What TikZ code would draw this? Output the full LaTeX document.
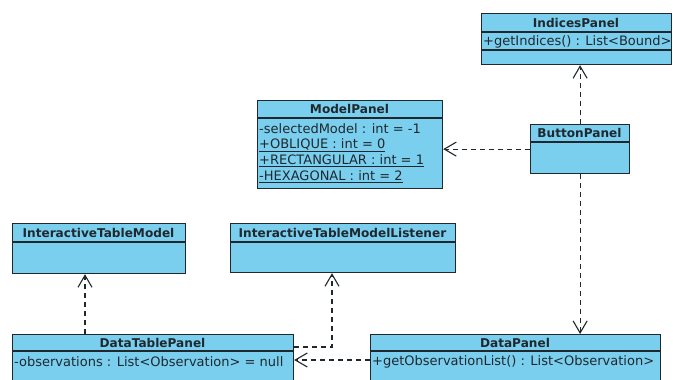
\documentclass[tikz,border=0pt]{standalone}
\usepackage{fontspec}
\setmainfont{DejaVu Sans}
\usetikzlibrary{arrows.meta,positioning}

\definecolor{umlblue}{RGB}{122,207,239}
\definecolor{umlline}{RGB}{32,40,46}

\tikzset{
    classbox/.style={draw=umlline, fill=umlblue, line width=1.2pt,
        anchor=north west, inner sep=0pt},
    classname/.style={font=\fontsize{12.1}{14}\selectfont\bfseries,
        text=umlline, inner sep=0pt},
    member/.style={font=\fontsize{13}{15}\selectfont,
        text=umlline, anchor=west, inner sep=0pt},
    compart/.style={draw=umlline, line width=1.2pt},
    depends/.style={draw=umlline, line width=1.1pt,
        dash pattern=on 5pt off 4pt,
        -{Straight Barb[length=12pt,width=14pt,line width=1.1pt]}}
}

\begin{document}
\begin{tikzpicture}[x=1pt, y=-1pt]

    \useasboundingbox (0,0) rectangle (673,380);

    % IndicesPanel
    \node[classbox, minimum width=190pt, minimum height=51pt] (indices) at (481,13) {};
    \node[classname] (indicesName) at (576,23) {IndicesPanel};
    \draw[compart] (481,32) -- (671,32);
    \node[member] (indicesOp) at (483,41.5) {+getIndices() : List<Bound>};
    \draw[compart] (481,50) -- (671,50);

    % ModelPanel
    \node[classbox, minimum width=185pt, minimum height=88pt] (model) at (257,100) {};
    \node[classname] (modelName) at (349.5,109) {ModelPanel};
    \draw[compart] (257,118) -- (442,118);
    \node[member] (modelSel) at (259,129) {-selectedModel : int = -1};
    \node[member] (modelObl) at (259,145) {\underline{+OBLIQUE : int = 0}};
    \node[member] (modelRect) at (259,161) {\underline{+RECTANGULAR : int = 1}};
    \node[member] (modelHex) at (259,177) {\underline{-HEXAGONAL : int = 2}};

    % ButtonPanel
    \node[classbox, minimum width=99pt, minimum height=49pt] (button) at (530,124) {};
    \node[classname] (buttonName) at (579.5,133) {ButtonPanel};
    \draw[compart] (530,142) -- (629,142);

    % InteractiveTableModel
    \node[classbox, minimum width=173pt, minimum height=50pt] (itm) at (12,223) {};
    \node[classname] (itmName) at (98.5,232.5) {InteractiveTableModel};
    \draw[compart] (12,242) -- (185,242);

    % InteractiveTableModelListener
    \node[classbox, minimum width=225pt, minimum height=49pt] (itml) at (230,223) {};
    \node[classname] (itmlName) at (342.5,232.5) {InteractiveTableModelListener};
    \draw[compart] (230,242) -- (455,242);

    % DataTablePanel
    \node[classbox, minimum width=281pt, minimum height=60pt] (datatable) at (12,334) {};
    \node[classname] (datatableName) at (152.5,342.5) {DataTablePanel};
    \draw[compart] (12,351) -- (293,351);
    \node[member] (datatableObs) at (14,362) {-observations : List<Observation> = null};

    % DataPanel
    \node[classbox, minimum width=290pt, minimum height=60pt] (datapanel) at (370,334) {};
    \node[classname] (datapanelName) at (515,342.5) {DataPanel};
    \draw[compart] (370,351) -- (660,351);
    \node[member] (datapanelOp) at (372,362) {+getObservationList() : List<Observation>};

    % dependencies
    \coordinate (dtUp) at ([xshift=73pt]datatable.north west);
    \coordinate (dtRight) at ([yshift=-13pt]datatable.north east);
    \coordinate (itmlIn) at ([xshift=102pt]itml.south west);
    \coordinate (dataOut) at ([yshift=-26pt]datapanel.north west);

    \draw[depends] (button.north) -- (button.north |- indices.south);
    \draw[depends] (button.west) -- (button.west -| model.east);
    \draw[depends] (button.south) -- (button.south |- datapanel.north);
    \draw[depends] (dtUp) -- (dtUp |- itm.south);
    \draw[depends] (dtRight) -| (itmlIn);
    \draw[depends] (dataOut) -- (dataOut -| datatable.east);

\end{tikzpicture}
\end{document}
